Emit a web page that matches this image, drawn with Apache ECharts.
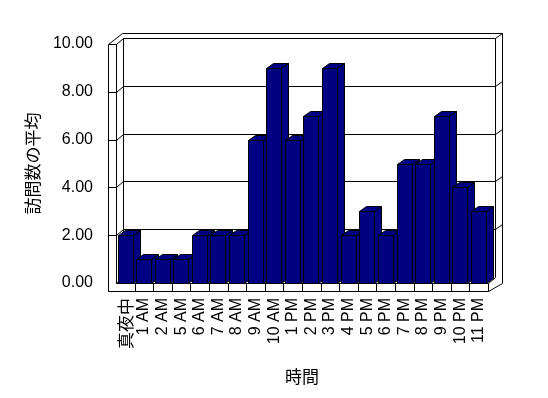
<!DOCTYPE html>
<html><head><meta charset="utf-8">
<script src="https://cdn.jsdelivr.net/npm/echarts@6/dist/echarts.min.js"></script>
<style>html,body{margin:0;padding:0;background:#fff}#c{width:548px;height:398px}</style>
</head><body><div id="c"></div>
<script>
const categories = ['真夜中','1 AM','2 AM','5 AM','6 AM','7 AM','8 AM','9 AM','10 AM','1 PM','2 PM','3 PM','4 PM','5 PM','6 PM','7 PM','8 PM','9 PM','10 PM','11 PM'];
const visits = [2,1,1,1,2,2,2,6,9,6,7,9,2,3,2,5,5,7,4,3];
const yTicks = [0,2,4,6,8,10];
const yTitle = '訪問数の平均';
const xTitle = '時間';

const chart = echarts.init(document.getElementById('c'), null, {renderer:'canvas'});
const NAVY = '#000080';
const DX = 7, DY = -6;      // wall depth
const BDX = 7, BDY = -5;    // bar depth
const T = 8;                // wall / floor thickness
const h = v => Math.round(v) + 0.5;

function ln(x1,y1,x2,y2){
  return {type:'line', shape:{x1,y1,x2,y2}, style:{stroke:'#000', lineWidth:1}};
}

function renderFrame(params, api){
  const bw = api.size([1,0])[0];
  const p0 = api.coord([0,0]);
  const xL = h(p0[0]-bw/2), xR = h(p0[0]-bw/2 + categories.length*bw);
  const yB = h(p0[1]);
  const yT = h(api.coord([0, yTicks[yTicks.length-1]])[1]);
  const xo = xL - T;
  const bxL = xL + DX, bxR = xR + DX;
  const ch = [];
  ch.push({type:'rect', shape:{x:bxL, y:yT+DY, width:bxR-bxL, height:yB-yT}, style:{fill:'#fff'}});
  yTicks.forEach(v=>{
    const yf = h(api.coord([0,v])[1]);
    const yb = yf + DY;
    if (v>0){
      ch.push(ln(bxL, yb, bxR, yb));
      ch.push(ln(xo, yf, xL, yf));
      ch.push(ln(xL, yf, bxL, yb));
      ch.push(ln(bxR, yb, bxR+7, yb-5));
    }
  });
  ch.push(ln(bxL, yT+DY, bxL, yB+DY));
  ch.push(ln(bxR, yT+DY, bxR, yB+DY));
  ch.push(ln(bxR+7, yT+DY-5, bxR+7, yB+DY+6));
  ch.push(ln(xo+14, yT+DY-5, bxR+7, yT+DY-5));
  ch.push(ln(xo, yT, xo+14, yT+DY-5));
  ch.push(ln(xo, yT, xo, yB+T));
  ch.push(ln(xL, yT, xL, yB));
  ch.push(ln(xL, yB, bxL, yB+DY));
  ch.push(ln(xL, yB, xR, yB));
  ch.push(ln(xR, yB, bxR, yB+DY));
  ch.push(ln(xo, yB+T, xR, yB+T));
  ch.push(ln(xR, yB, xR, yB+T));
  ch.push(ln(xR, yB+T, bxR+7, yB+DY+6));
  for (let k=1;k<categories.length;k++){
    const x = h(p0[0]-bw/2 + k*bw);
    ch.push(ln(x, yB, x, yB+T));
  }
  return {type:'group', children:ch};
}

function renderBar(params, api){
  const i = api.value(0), v = api.value(1);
  const bw = api.size([1,0])[0];
  const c = api.coord([i, v]);
  const b = api.coord([i, 0]);
  const L = h(c[0]-bw/2+1.5), R = h(c[0]-bw/2+16.5);
  const yt = h(c[1]), yb = h(b[1]);
  const st = {fill:NAVY, stroke:'#000', lineWidth:1};
  return {type:'group', children:[
    {type:'polygon', shape:{points:[[R,yt],[R+BDX,yt+BDY],[R+BDX,yb+BDY],[R,yb]]}, style:st},
    {type:'polygon', shape:{points:[[L,yt],[R,yt],[R+BDX,yt+BDY],[L+BDX,yt+BDY]]}, style:st},
    {type:'rect', shape:{x:L, y:yt, width:R-L, height:yb-yt}, style:st}
  ]};
}

const option = {
  backgroundColor:'#fff',
  animation:false,
  grid:{left:116, right:60, top:44, bottom:115},
  xAxis:{
    type:'category', data:categories,
    axisLine:{show:false}, axisTick:{show:false}, splitLine:{show:false},
    axisLabel:{interval:0, rotate:90, margin:15, color:'#000', fontSize:16, fontFamily:'Liberation Sans',
      formatter: v => /[^\x00-\x7f]/.test(v) ? '{c|'+v+'}' : v,
      rich:{c:{fontFamily:'Noto Sans CJK JP', fontSize:17, color:'#000'}}},
    name:xTitle, nameLocation:'middle', nameGap:85,
    nameTextStyle:{fontFamily:'Noto Sans CJK JP', fontSize:17, color:'#000'}
  },
  yAxis:{
    type:'value', min:0, max:10, interval:2,
    axisLine:{show:false}, axisTick:{show:false}, splitLine:{show:false},
    axisLabel:{formatter: v => v.toFixed(2), margin:23, color:'#000', fontSize:16, fontFamily:'Liberation Sans'},
    name:yTitle, nameLocation:'middle', nameGap:75, nameRotate:90,
    nameTextStyle:{fontFamily:'Noto Sans CJK JP', fontSize:17, color:'#000'}
  },
  series:[
    {type:'custom', renderItem:renderFrame, data:[[0,0]], z:1, silent:true},
    {type:'custom', renderItem:renderBar, data:visits.map((v,i)=>[i,v]), encode:{x:0,y:1}, z:2, silent:true}
  ]
};
chart.setOption(option);
</script></body></html>
